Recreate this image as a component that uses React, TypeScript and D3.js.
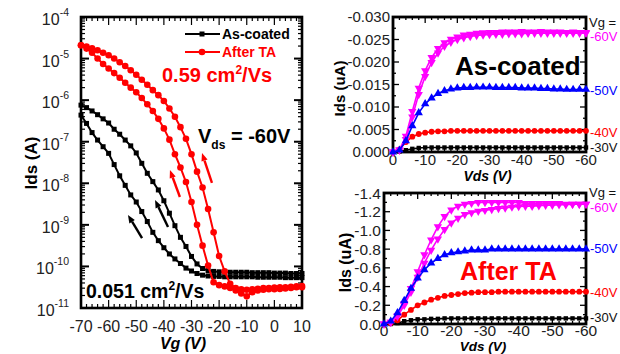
import React from "react";
import * as d3 from "d3";

const FONT = "'Liberation Sans', Arial, sans-serif";
const RED = "#ff0000";
const MAGENTA = "#ff00ff";
const BLUE = "#0000ff";

// transfer curves, Vg in V, Ids as log10(A)
const VG = [
  -70, -68, -66, -64, -62, -60, -58, -56, -54, -52, -50, -48, -46, -44, -42, -40, -38, -36, -34, -32, -30,
  -28, -26, -24, -22, -20, -18, -16, -14, -12, -10, -8, -6, -4, -2, 0, 2, 4, 6, 8, 10,
];
const TA_OUTER = [
  -4.68, -4.71, -4.75, -4.8, -4.86, -4.92, -5.0, -5.09, -5.18, -5.28, -5.39, -5.51, -5.63, -5.76, -5.88, -6.02,
  -6.2, -6.4, -6.65, -6.93, -7.3, -7.72, -8.1, -8.62, -9.18, -9.75, -10.12, -10.42, -10.52, -10.55, -10.56,
  -10.55, -10.54, -10.52, -10.52, -10.51, -10.5, -10.5, -10.49, -10.48, -10.47,
];
const TA_INNER = [
  -4.68, -4.76, -4.86, -5.0, -5.13, -5.24, -5.35, -5.46, -5.58, -5.7, -5.81, -5.95, -6.1, -6.26, -6.45, -6.68,
  -6.95, -7.3, -7.62, -7.97, -8.45, -9.0, -9.5, -9.98, -10.38, -10.45, -10.48, -10.52, -10.58, -10.65, -10.72,
  -10.62, -10.58, -10.56, -10.55, -10.55, -10.54, -10.53, -10.52, -10.5, -10.5,
];
const AC_UPPER = [
  -6.12, -6.18, -6.26, -6.35, -6.45, -6.55, -6.7, -6.82, -6.96, -7.1, -7.27, -7.52, -7.76, -7.96, -8.16, -8.42,
  -8.72, -9.02, -9.3, -9.52, -9.76, -9.94, -10.05, -10.1, -10.12, -10.13, -10.13, -10.14, -10.14, -10.14,
  -10.14, -10.15, -10.15, -10.15, -10.15, -10.16, -10.16, -10.16, -10.17, -10.17, -10.17,
];
const AC_LOWER = [
  -6.36, -6.56, -6.78, -6.96, -7.12, -7.28, -7.55, -7.82, -8.05, -8.28, -8.45, -8.68, -8.92, -9.18, -9.38, -9.55,
  -9.7, -9.82, -9.93, -10.04, -10.11, -10.17, -10.21, -10.23, -10.24, -10.24, -10.25, -10.25, -10.25, -10.25,
  -10.25, -10.25, -10.26, -10.26, -10.26, -10.26, -10.26, -10.27, -10.27, -10.27, -10.27,
];
// sweep arrows [Vg, log Ids] head first
const ARROWS = [
  { from: [-53, -8.76], to: [-47.9, -9.32], color: "#000" },
  { from: [-43.2, -8.4], to: [-38.5, -9.05], color: "#000" },
  { from: [-37.8, -7.68], to: [-34.2, -8.33], color: RED },
  { from: [-26.2, -7.27], to: [-22.6, -7.99], color: RED },
];
const LOG_TICKS = [-4, -5, -6, -7, -8, -9, -10, -11];
const VG_TICKS = [-70, -60, -50, -40, -30, -20, -10, 0, 10];

// output curves, Vds in V, Ids in uA
const VDS = [
  0, -2, -4, -6, -8, -10, -12, -14, -16, -18, -20, -22, -24, -26, -28, -30, -32, -34, -36, -38, -40, -42, -44,
  -46, -48, -50, -52, -54, -56, -58, -60,
];
const AC_60A = [
  0, -0.0005, -0.0035, -0.009, -0.0142, -0.0181, -0.021, -0.023, -0.0243, -0.0251, -0.0256, -0.026, -0.0262,
  -0.0264, -0.0265, -0.0266, -0.0266, -0.0267, -0.0267, -0.0267, -0.0268, -0.0267, -0.0267, -0.0268, -0.0267,
  -0.0267, -0.0267, -0.0266, -0.0267, -0.0266, -0.0266,
];
const AC_60B = [
  0, -0.0004, -0.0028, -0.0078, -0.0128, -0.0168, -0.0199, -0.022, -0.0235, -0.0244, -0.025, -0.0254, -0.0257,
  -0.0259, -0.026, -0.0261, -0.0262, -0.0262, -0.0263, -0.0263, -0.0263, -0.0264, -0.0264, -0.0264, -0.0264,
  -0.0264, -0.0264, -0.0264, -0.0264, -0.0264, -0.0264,
];
const AC_50 = [
  0, -0.0004, -0.0025, -0.0058, -0.0087, -0.0107, -0.012, -0.013, -0.0136, -0.014, -0.0142, -0.0143, -0.0143,
  -0.0144, -0.0144, -0.0144, -0.0143, -0.0143, -0.0143, -0.0143, -0.0142, -0.0142, -0.0142, -0.0141, -0.0141,
  -0.014, -0.014, -0.0139, -0.0139, -0.0139, -0.0139,
];
const AC_40 = [
  0, -0.0006, -0.0022, -0.0034, -0.004, -0.0043, -0.0045, -0.0046, -0.0046, -0.0047, -0.0047, -0.0047, -0.0047,
  -0.0047, -0.0047, -0.0047, -0.0047, -0.0047, -0.0047, -0.0047, -0.0047, -0.0047, -0.0047, -0.0047, -0.0047,
  -0.0047, -0.0047, -0.0047, -0.0047, -0.0047, -0.0047,
];
const AC_30 = [
  0, -0.0001, -0.0004, -0.0007, -0.0009, -0.001, -0.001, -0.001, -0.001, -0.001, -0.001, -0.001, -0.001, -0.001,
  -0.001, -0.001, -0.001, -0.001, -0.001, -0.001, -0.001, -0.001, -0.001, -0.001, -0.001, -0.001, -0.001, -0.001,
  -0.001, -0.001, -0.001,
];
const TA_60A = [
  0, -0.02, -0.09, -0.22, -0.38, -0.56, -0.74, -0.9, -1.04, -1.15, -1.22, -1.26, -1.28, -1.29, -1.3, -1.3, -1.3,
  -1.3, -1.3, -1.3, -1.3, -1.29, -1.29, -1.29, -1.29, -1.29, -1.29, -1.28, -1.28, -1.28, -1.28,
];
const TA_60B = [
  0, -0.02, -0.08, -0.2, -0.34, -0.5, -0.65, -0.79, -0.91, -1.01, -1.08, -1.13, -1.17, -1.19, -1.205, -1.215,
  -1.225, -1.235, -1.24, -1.25, -1.255, -1.26, -1.26, -1.265, -1.27, -1.27, -1.275, -1.275, -1.28, -1.28, -1.28,
];
const TA_50 = [
  0, -0.03, -0.12, -0.25, -0.38, -0.49, -0.58, -0.65, -0.7, -0.74, -0.76, -0.77, -0.78, -0.79, -0.79, -0.79,
  -0.8, -0.8, -0.8, -0.8, -0.8, -0.8, -0.8, -0.8, -0.8, -0.8, -0.8, -0.8, -0.8, -0.8, -0.8,
];
const TA_40 = [
  0, -0.01, -0.04, -0.1, -0.15, -0.2, -0.23, -0.26, -0.28, -0.3, -0.31, -0.32, -0.33, -0.335, -0.34, -0.34,
  -0.34, -0.345, -0.345, -0.345, -0.345, -0.345, -0.345, -0.345, -0.345, -0.345, -0.345, -0.345, -0.345, -0.345,
  -0.345,
];
const TA_30 = [
  0, 0, -0.01, -0.03, -0.04, -0.05, -0.05, -0.055, -0.055, -0.06, -0.06, -0.06, -0.06, -0.06, -0.06, -0.06,
  -0.06, -0.06, -0.06, -0.06, -0.06, -0.06, -0.06, -0.06, -0.06, -0.06, -0.06, -0.06, -0.06, -0.06, -0.06,
];
const VG_LABELS = ["-60V", "-50V", "-40V", "-30V"];
const VDS_TICKS = [0, -10, -20, -30, -40, -50, -60];

const Arrow = ({ x1, y1, x2, y2, color }) => {
  const ang = Math.atan2(y1 - y2, x1 - x2);
  const hl = 8;
  const hw = 3.2;
  const bx = x1 - hl * Math.cos(ang);
  const by = y1 - hl * Math.sin(ang);
  const px = -Math.sin(ang) * hw;
  const py = Math.cos(ang) * hw;
  return (
    <g>
      <line x1={bx} y1={by} x2={x2} y2={y2} stroke={color} strokeWidth={2.4} />
      <path d={`M${x1},${y1}L${bx + px},${by + py}L${bx - px},${by - py}Z`} fill={color} />
    </g>
  );
};

const TransferPanel = () => {
  const box = { x0: 81, x1: 302, y0: 17, y1: 308 };
  const x = d3.scaleLinear().domain([-70, 10]).range([box.x0, box.x1]);
  const y = d3.scaleLog().domain([1e-11, 1e-4]).range([box.y1, box.y0]);
  const line = d3
    .line<number>()
    .x((d, i) => x(VG[i]))
    .y((d) => y(Math.pow(10, d)));
  const minorLog: number[] = [];
  for (let n = -11; n < -4; n++) for (let k = 2; k <= 9; k++) minorLog.push(k * Math.pow(10, n));
  const minorX = d3.range(-70, 10.1, 2);
  const square = (cx, cy, key) => <rect key={key} x={cx - 2.5} y={cy - 2.5} width={5} height={5} fill="#000" />;

  return (
    <g fontFamily={FONT}>
      {/* ticks */}
      {minorLog.map((v, i) => (
        <g key={"ml" + i} stroke="#000" strokeWidth={1.2}>
          <line x1={box.x0} x2={box.x0 + 4} y1={y(v)} y2={y(v)} />
          <line x1={box.x1} x2={box.x1 - 4} y1={y(v)} y2={y(v)} />
        </g>
      ))}
      {LOG_TICKS.map((e) => (
        <g key={"mj" + e} stroke="#000" strokeWidth={2}>
          <line x1={box.x0} x2={box.x0 + 8} y1={y(Math.pow(10, e))} y2={y(Math.pow(10, e))} />
          <line x1={box.x1} x2={box.x1 - 8} y1={y(Math.pow(10, e))} y2={y(Math.pow(10, e))} />
        </g>
      ))}
      {minorX.map((v) => (
        <g key={"mx" + v} stroke="#000" strokeWidth={1.2}>
          <line x1={x(v)} x2={x(v)} y1={box.y1} y2={box.y1 - (v % 10 === 0 ? 8 : 4)} />
          <line x1={x(v)} x2={x(v)} y1={box.y0} y2={box.y0 + (v % 10 === 0 ? 8 : 4)} />
        </g>
      ))}
      <rect x={box.x0} y={box.y0} width={box.x1 - box.x0} height={box.y1 - box.y0} fill="none" stroke="#000" strokeWidth={2.6} />
      {LOG_TICKS.map((e) => (
        <text key={"lt" + e} x={69} y={y(Math.pow(10, e)) + 8} textAnchor="end" fontSize={16} fill="#222">
          10
          <tspan dy={-9} fontSize={10.5}>
            {e}
          </tspan>
        </text>
      ))}
      {VG_TICKS.map((v) => (
        <text key={"xt" + v} x={x(v)} y={332} textAnchor="middle" fontSize={16} fill="#222">
          {v}
        </text>
      ))}
      <text transform="translate(37,163) rotate(-90)" textAnchor="middle" fontSize={17} fontWeight="bold">
        Ids (A)
      </text>
      <text x={183} y={349} textAnchor="middle" fontSize={16} fontWeight="bold" fontStyle="italic">
        Vg (V)
      </text>

      {/* as-coated */}
      <path d={line(AC_UPPER) ?? ""} fill="none" stroke="#000" strokeWidth={2} />
      <path d={line(AC_LOWER) ?? ""} fill="none" stroke="#000" strokeWidth={2} />
      {AC_UPPER.map((d, i) => square(x(VG[i]), y(Math.pow(10, d)), "au" + i))}
      {AC_LOWER.map((d, i) => square(x(VG[i]), y(Math.pow(10, d)), "al" + i))}
      {/* after TA */}
      <path d={line(TA_OUTER) ?? ""} fill="none" stroke={RED} strokeWidth={2} />
      <path d={line(TA_INNER) ?? ""} fill="none" stroke={RED} strokeWidth={2} />
      {TA_OUTER.map((d, i) => (
        <circle key={"to" + i} cx={x(VG[i])} cy={y(Math.pow(10, d))} r={3.3} fill={RED} />
      ))}
      {TA_INNER.map((d, i) => (
        <circle key={"ti" + i} cx={x(VG[i])} cy={y(Math.pow(10, d))} r={3.3} fill={RED} />
      ))}
      {ARROWS.map((a, i) => (
        <Arrow
          key={"ar" + i}
          x1={x(a.from[0])}
          y1={y(Math.pow(10, a.from[1]))}
          x2={x(a.to[0])}
          y2={y(Math.pow(10, a.to[1]))}
          color={a.color}
        />
      ))}

      {/* legend */}
      <line x1={185} x2={220} y1={34} y2={34} stroke="#000" strokeWidth={2} />
      {square(202, 34, "lg1")}
      <text x={222} y={39} fontSize={14} fontWeight="bold">
        As-coated
      </text>
      <line x1={185} x2={220} y1={52} y2={52} stroke={RED} strokeWidth={2} />
      <circle cx={202} cy={52} r={3.3} fill={RED} />
      <text x={222} y={57} fontSize={14} fontWeight="bold" fill={RED}>
        After TA
      </text>

      <text x={162} y={82} fontSize={20} fontWeight="bold" fill={RED}>
        0.59 cm<tspan dy={-8} fontSize={12}>2</tspan>
        <tspan dy={8}>/Vs</tspan>
      </text>
      <text x={198} y={143} fontSize={20} fontWeight="bold">
        V<tspan dy={6} fontSize={12}>ds</tspan>
        <tspan dy={-6}> = -60V</tspan>
      </text>
      <text x={86} y={298} fontSize={19.5} fontWeight="bold">
        0.051 cm<tspan dy={-8} fontSize={12}>2</tspan>
        <tspan dy={8}>/Vs</tspan>
      </text>
    </g>
  );
};

const OutputPanel = ({ box, yMax, yStep, yDigits, series, title, titleColor, titleX, titleY, titleSize, tickSize, xTickDy, xTitleDy, xTitleSize, labelYs, vgY, yTitleX, yTitleSize }) => {
  const x = d3.scaleLinear().domain([0, -60]).range([box.x0, box.x1]);
  const y = d3.scaleLinear().domain([0, yMax]).range([box.y1, box.y0]);
  const yTicks = d3.range(0, Math.round(yMax / yStep) + 1).map((k) => k * yStep);
  const yMinor = d3.range(0, Math.round(yMax / yStep) * 2 + 1).map((k) => (k * yStep) / 2);
  const xMinor = d3.range(0, -60.1, -2);
  const line = d3
    .line<number>()
    .x((d, i) => x(VDS[i]))
    .y((d) => y(d));
  const marker = (kind, cx, cy, color, key) => {
    if (kind === "square") return <rect key={key} x={cx - 2.2} y={cy - 2.2} width={4.4} height={4.4} fill={color} />;
    if (kind === "circle") return <circle key={key} cx={cx} cy={cy} r={2.9} fill={color} />;
    const sym = d3.symbol(d3.symbolTriangle, 30)();
    return <path key={key} d={sym ?? ""} fill={color} transform={`translate(${cx},${cy}) rotate(${kind === "down" ? 180 : 0})`} />;
  };
  return (
    <g fontFamily={FONT}>
      {yMinor.map((v, i) => (
        <g key={"ym" + i} stroke="#000" strokeWidth={1.3}>
          <line x1={box.x0} x2={box.x0 + (i % 2 === 0 ? 6 : 3)} y1={y(v)} y2={y(v)} />
          <line x1={box.x1} x2={box.x1 - (i % 2 === 0 ? 6 : 3)} y1={y(v)} y2={y(v)} />
        </g>
      ))}
      {xMinor.map((v) => (
        <g key={"xm" + v} stroke="#000" strokeWidth={1.3}>
          <line x1={x(v)} x2={x(v)} y1={box.y1} y2={box.y1 - (v % 10 === 0 ? 6 : 3)} />
          <line x1={x(v)} x2={x(v)} y1={box.y0} y2={box.y0 + (v % 10 === 0 ? 6 : 3)} />
        </g>
      ))}
      <rect x={box.x0} y={box.y0} width={box.x1 - box.x0} height={box.y1 - box.y0} fill="none" stroke="#000" strokeWidth={2.8} />
      {yTicks.map((v) => (
        <text key={"yt" + v} x={box.x0 - 3} y={y(v) + tickSize * 0.36} textAnchor="end" fontSize={tickSize} fill="#222">
          {v === 0 ? (0).toFixed(yDigits) : v.toFixed(yDigits)}
        </text>
      ))}
      {VDS_TICKS.map((v) => (
        <text key={"xt" + v} x={x(v)} y={box.y1 + xTickDy} textAnchor="middle" fontSize={tickSize} fill="#222">
          {v}
        </text>
      ))}
      <text transform={`translate(${yTitleX},${(box.y0 + box.y1) / 2 + 4}) rotate(-90)`} textAnchor="middle" fontSize={yTitleSize} fontWeight="bold">
        Ids (uA)
      </text>
      <text x={(box.x0 + box.x1) / 2 - 2} y={box.y1 + xTitleDy} textAnchor="middle" fontSize={xTitleSize} fontWeight="bold" fontStyle="italic">
        Vds (V)
      </text>
      {series.map((s, si) => (
        <g key={"s" + si}>
          <path d={line(s.values) ?? ""} fill="none" stroke={s.color} strokeWidth={1.6} />
          {s.values.map((d, i) => marker(s.marker, x(VDS[i]), y(d), s.color, "m" + si + "_" + i))}
        </g>
      ))}
      <text x={titleX} y={titleY} fontSize={titleSize} fontWeight="bold" fill={titleColor}>
        {title}
      </text>
      <text x={box.x1 + 3} y={vgY} fontSize={13} fill="#111">
        Vg =
      </text>
      {VG_LABELS.map((t, i) => (
        <text key={t} x={box.x1 + 4} y={labelYs[i] + 4.5} fontSize={13} fill={[MAGENTA, BLUE, RED, "#111"][i]}>
          {t}
        </text>
      ))}
    </g>
  );
};

export default function App() {
  return (
    <svg width={620} height={354} style={{ position: "absolute", left: 0, top: 0, background: "#fff" }}>
      <TransferPanel />
      <OutputPanel
        box={{ x0: 393, x1: 586, y0: 17, y1: 152 }}
        yMax={-0.03}
        yStep={-0.005}
        yDigits={3}
        tickSize={15}
        xTickDy={12.5}
        xTitleDy={29}
        xTitleSize={14}
        series={[
          { values: AC_30, color: "#000", marker: "square" },
          { values: AC_40, color: RED, marker: "circle" },
          { values: AC_60B, color: MAGENTA, marker: "down" },
          { values: AC_60A, color: MAGENTA, marker: "down" },
          { values: AC_50, color: BLUE, marker: "up" },
        ]}
        title="As-coated"
        titleColor="#000"
        titleX={455}
        titleY={75}
        titleSize={26}
        labelYs={[36, 90, 132, 147]}
        vgY={27}
        yTitleX={345}
        yTitleSize={15}
      />
      <OutputPanel
        box={{ x0: 384, x1: 586, y0: 193, y1: 324 }}
        yMax={-1.4}
        yStep={-0.2}
        yDigits={1}
        tickSize={15.5}
        xTickDy={11.5}
        xTitleDy={27}
        xTitleSize={13.5}
        series={[
          { values: TA_30, color: "#000", marker: "square" },
          { values: TA_40, color: RED, marker: "circle" },
          { values: TA_60B, color: MAGENTA, marker: "down" },
          { values: TA_60A, color: MAGENTA, marker: "down" },
          { values: TA_50, color: BLUE, marker: "up" },
        ]}
        title="After TA"
        titleColor={RED}
        titleX={460}
        titleY={280}
        titleSize={25}
        labelYs={[207, 248, 292, 317]}
        vgY={197}
        yTitleX={351}
        yTitleSize={16}
      />
    </svg>
  );
}
